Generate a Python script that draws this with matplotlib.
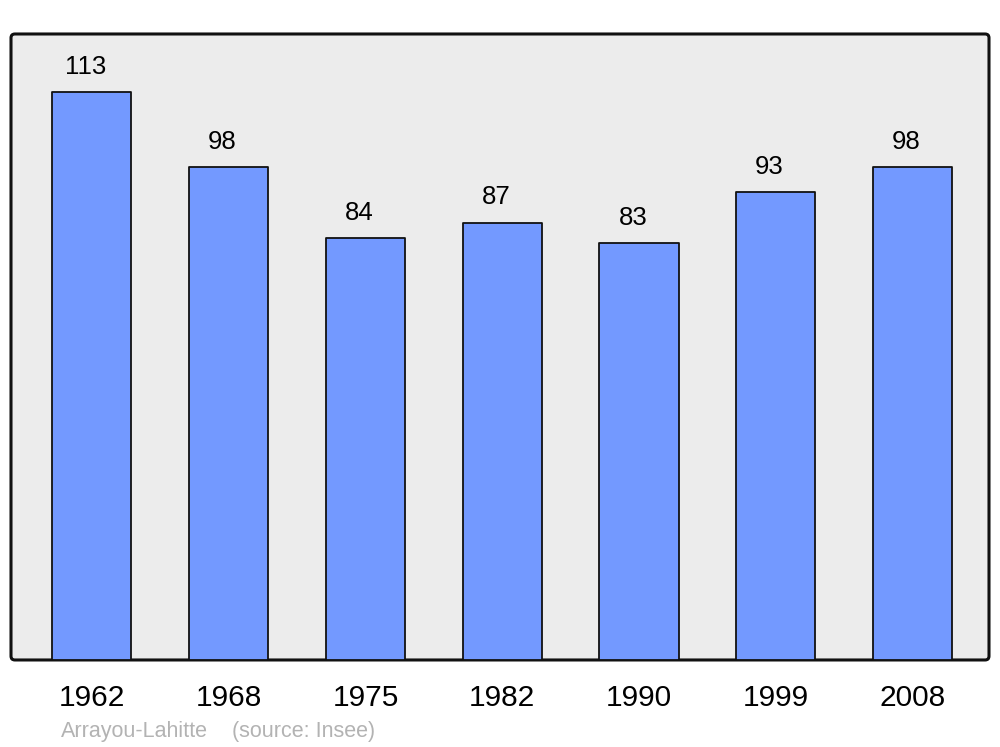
import matplotlib
matplotlib.use("Agg")
import matplotlib.pyplot as plt
from matplotlib.patches import FancyBboxPatch

years = ["1962", "1968", "1975", "1982", "1990", "1999", "2008"]
population = [113, 98, 84, 87, 83, 93, 98]
commune = "Arrayou-Lahitte"
source = "(source: Insee)"

plt.rcParams['font.family'] = ['Liberation Sans', 'DejaVu Sans']

fig = plt.figure(figsize=(10, 7.47), dpi=100)
ax = fig.add_axes([0.011, 0.1165, 0.978, 0.838])
ax.set_facecolor('none')
for s in ax.spines.values():
    s.set_visible(False)

# rounded frame
frame = FancyBboxPatch((0, 0), 1, 1, boxstyle="round,pad=0,rounding_size=0.004",
                       mutation_aspect=978 / 626, transform=ax.transAxes,
                       facecolor='#ececec', edgecolor='#111111', linewidth=2.2,
                       zorder=0, clip_on=False)
ax.add_patch(frame)

x = list(range(len(years)))
bars = ax.bar(x, population, width=0.578, color='#7399ff', edgecolor='#111111',
              linewidth=1.3, zorder=2)
for b in bars:
    b.set_joinstyle('round')

for xi, v in zip(x, population):
    ax.annotate(str(v), (xi, v), xytext=(-4.5, 13), textcoords='offset points',
                ha='center', va='baseline', fontsize=18.5)

ax.set_xlim(-0.592, 6.559)
ax.set_ylim(0, 124.5)
ax.set_yticks([])
ax.set_xticks(x)
ax.set_xticklabels(years, fontsize=21.5)
ax.tick_params(axis='x', length=0, pad=17)

ybase = (747 - 737) / 747
fig.text(0.061, ybase, commune, color='#b3b3b3', fontsize=15.5,
         ha='left', va='baseline')
fig.text(0.232, ybase, source, color='#b3b3b3', fontsize=15.5,
         ha='left', va='baseline')

fig.savefig("out.png", dpi=100)
